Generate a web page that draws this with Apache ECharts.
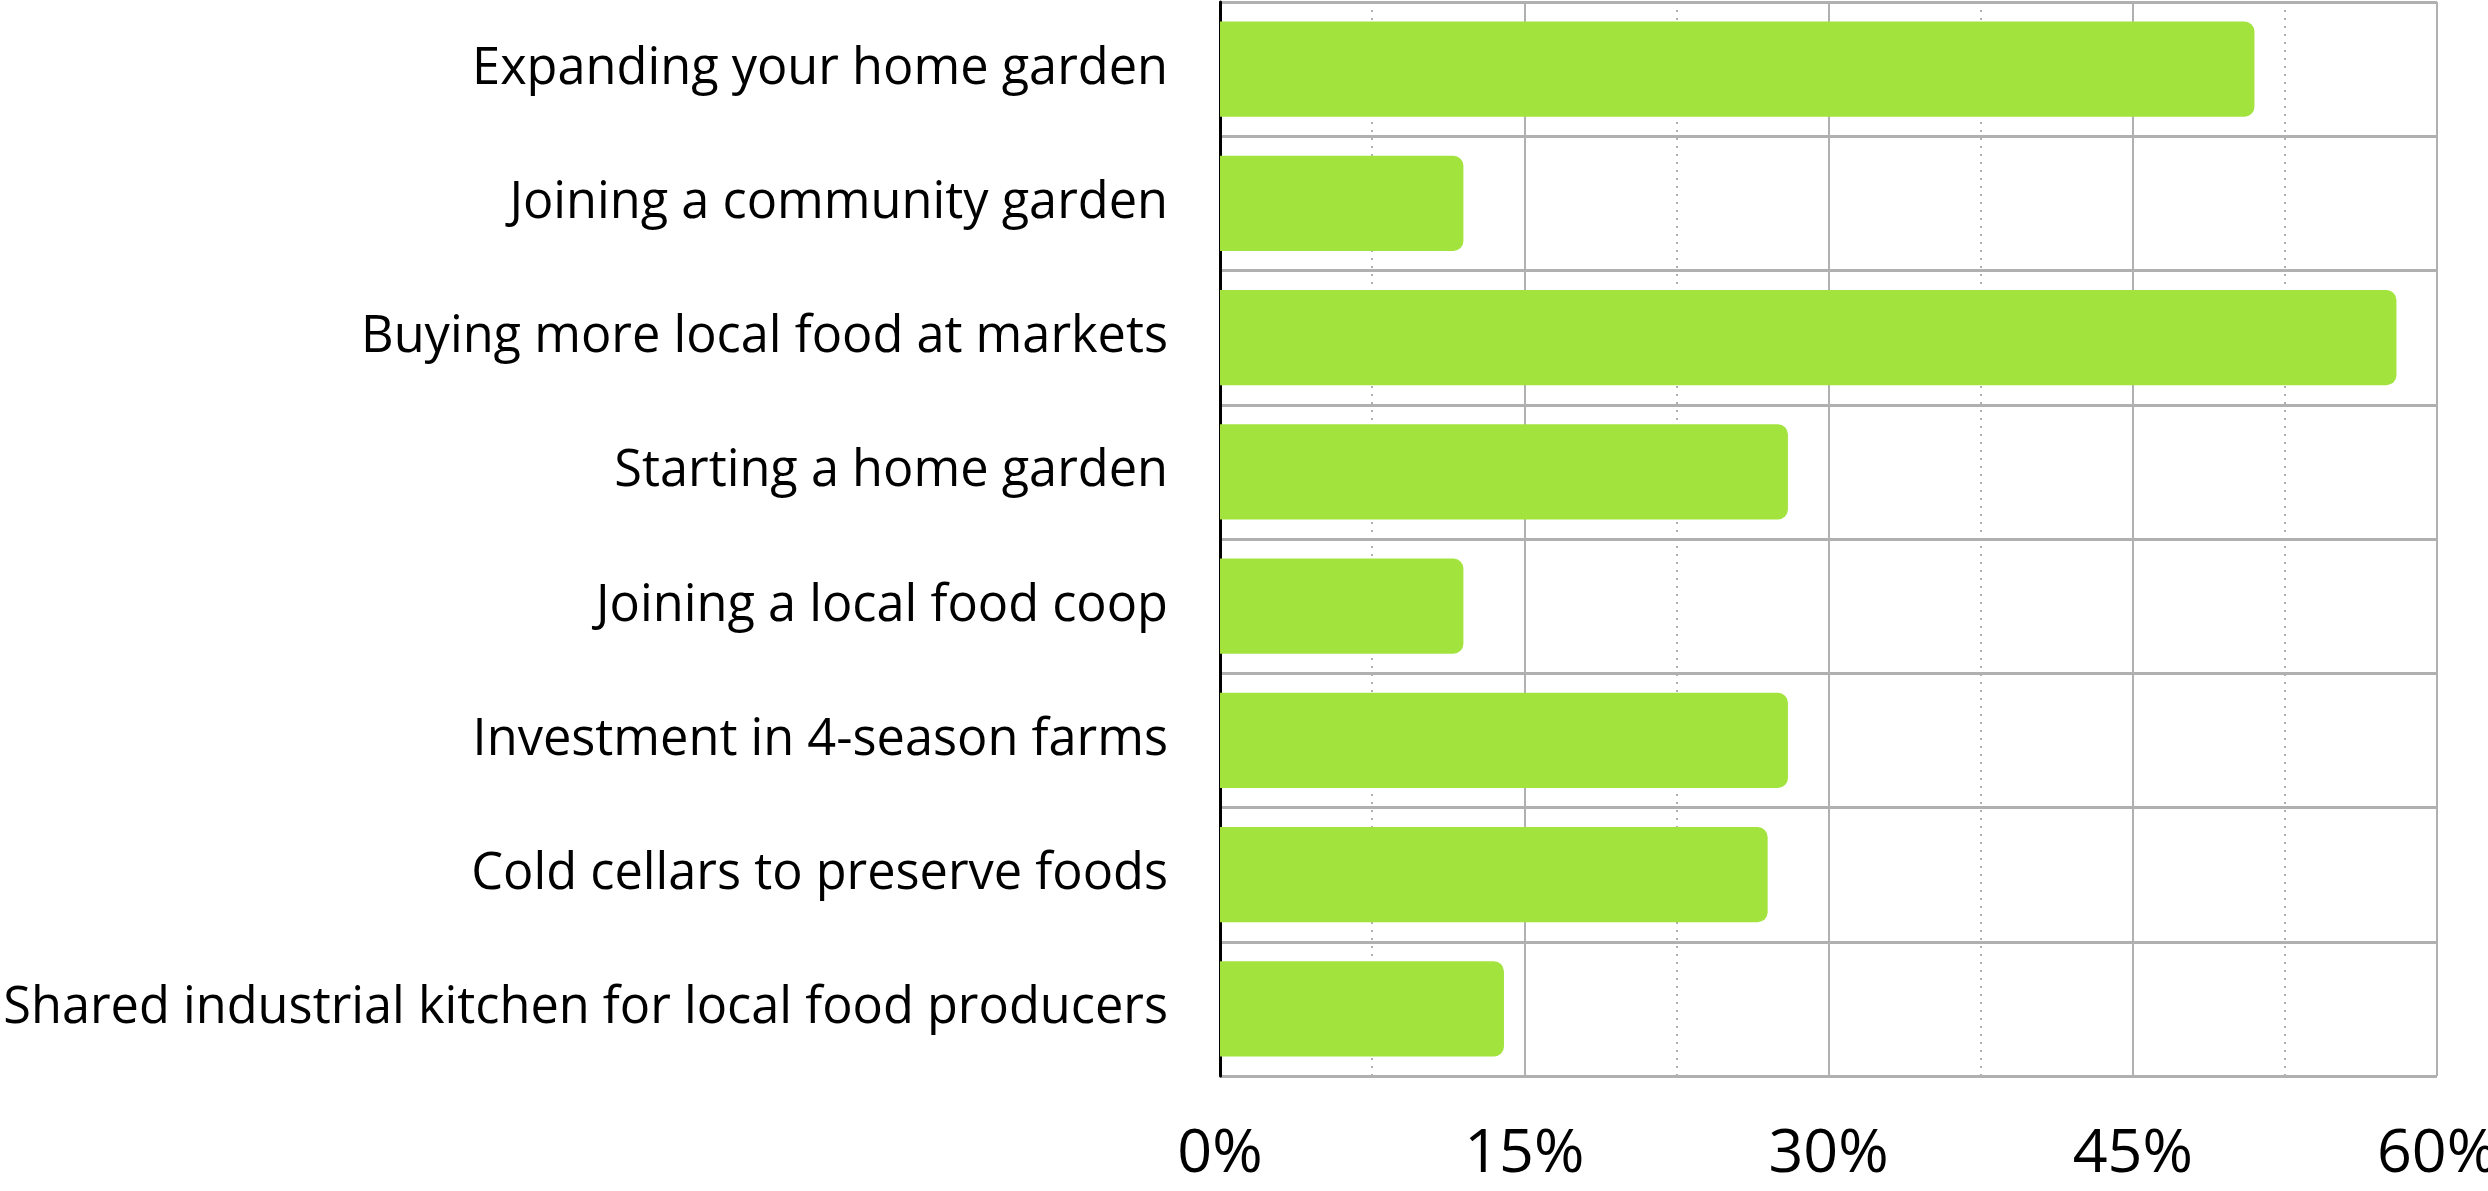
<!DOCTYPE html>
<html>
<head>
<meta charset="utf-8">
<script src="https://cdn.jsdelivr.net/npm/echarts@6/dist/echarts.min.js"></script>
<style>
  html, body { margin: 0; padding: 0; background: #fff; }
  #chart { width: 2488px; height: 1191px; }
</style>
</head>
<body>
<div id="chart"></div>
<script>
// categories, top to bottom
var categories = [
  'Expanding your home garden',
  'Joining a community garden',
  'Buying more local food at markets',
  'Starting a home garden',
  'Joining a local food coop',
  'Investment in 4-season farms',
  'Cold cellars to preserve foods',
  'Shared industrial kitchen for local food producers'
];
// percent of respondents
var values = [51, 12, 58, 28, 12, 28, 27, 14];
var xTicks = [0, 15, 30, 45, 60];

var myChart = echarts.init(document.getElementById('chart'));
var gridColor = '#b0b0b0';

var option = {
  backgroundColor: '#fff',
  animation: false,
  textStyle: { fontFamily: 'Open Sans' },
  grid: {
    left: 1220,
    right: 51,
    top: 2,
    bottom: 115,
    containLabel: false,
    outerBoundsMode: 'none'
  },
  xAxis: {
    type: 'value',
    min: xTicks[0],
    max: xTicks[xTicks.length - 1],
    interval: xTicks[1] - xTicks[0],
    axisLine: { show: false },
    axisTick: { show: false },
    axisLabel: {
      margin: 48,
      fontSize: 61,
      color: '#000',
      fontFamily: 'Open Sans',
      formatter: '{value}%'
    },
    splitLine: {
      show: true,
      lineStyle: { color: gridColor, width: 2 }
    },
    minorTick: { show: false, splitNumber: 2 },
    minorSplitLine: {
      show: true,
      lineStyle: { color: gridColor, width: 2, type: [2, 6] }
    }
  },
  yAxis: {
    type: 'category',
    inverse: true,
    data: categories,
    axisLine: { show: true, lineStyle: { color: '#000', width: 3 } },
    axisTick: { show: false },
    axisLabel: {
      margin: 52,
      fontSize: 50.5,
      color: '#000',
      fontFamily: 'Open Sans',
      padding: [8, 0, 0, 0]
    },
    splitLine: {
      show: true,
      lineStyle: { color: gridColor, width: 3 }
    }
  },
  series: [{
    type: 'bar',
    data: values,
    barWidth: '71%',
    itemStyle: {
      color: '#a2e33e',
      borderRadius: [0, 10, 10, 0]
    }
  }]
};

myChart.setOption(option);
</script>
</body>
</html>
